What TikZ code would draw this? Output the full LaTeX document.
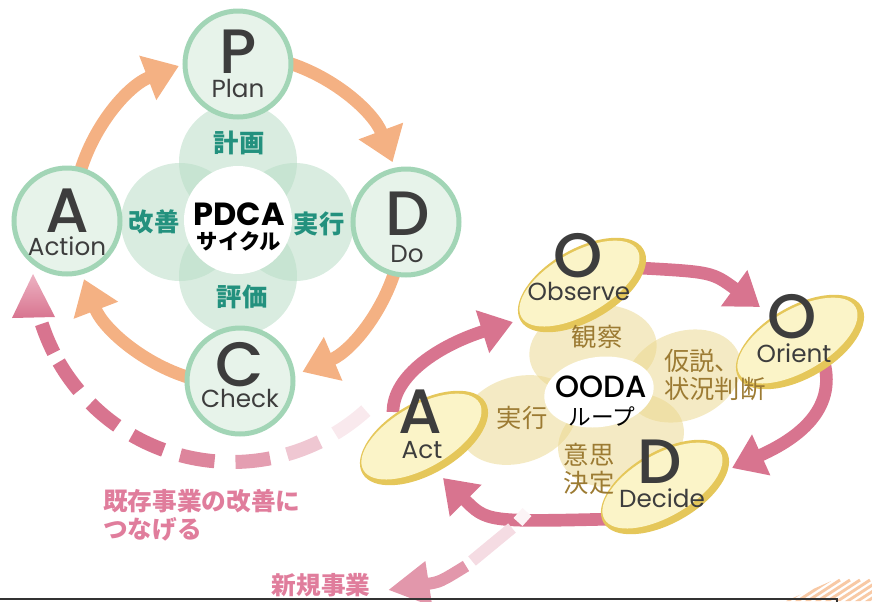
\documentclass[tikz,border=0pt]{standalone}
\usepackage{fontspec}
\setmainfont{Poppins}
\IfFontExistsTF{Poppins Medium}{\newfontfamily\bigf{Poppins Medium}}{\newfontfamily\bigf{Poppins}[FakeBold=1.5]}
\newfontfamily\jp{Noto Sans CJK JP}
\usetikzlibrary{arrows.meta}
\definecolor{gborder}{HTML}{A2D5B6}
\definecolor{gfill}{HTML}{E7F3EA}
\definecolor{petalc}{HTML}{B9DDC6}
\definecolor{tealc}{HTML}{23917E}
\definecolor{orng}{HTML}{F4B183}
\definecolor{pinkc}{HTML}{D8748F}
\definecolor{pinklt}{HTML}{EDB3C3}
\definecolor{ellfill}{HTML}{FBF4C8}
\definecolor{ellgold}{HTML}{E5C75A}
\definecolor{blobc}{HTML}{EAD68A}
\definecolor{brownc}{HTML}{9C7B33}
\definecolor{darkc}{HTML}{3D3D3D}
\definecolor{pinktext}{HTML}{E07D9C}
\definecolor{hatchc}{HTML}{F8C9A5}
\begin{document}
\begin{tikzpicture}[x=0.75pt,y=-0.75pt,
  pcirc/.style={circle, draw=gborder, fill=gfill, line width=3.75pt, minimum size=79.5pt, inner sep=0pt},
  big/.style={font=\bigf\fontsize{47}{47}\selectfont, text=darkc, anchor=base, inner sep=0pt},
  word/.style={font=\fontsize{18.5}{18.5}\selectfont, text=darkc, anchor=base, inner sep=0pt},
  jlab/.style={font=\jp\bfseries\fontsize{19}{21}\selectfont, inner sep=0pt},
  olab/.style={font=\jp\fontsize{19}{21}\selectfont, text=brownc, inner sep=0pt},
  oarr/.style={draw=orng, line width=9.5pt, -{Triangle[length=25pt,width=34pt]}},
  parr/.style={draw=pinkc, line width=9.5pt, -{Triangle[length=24pt,width=32pt]}},
  dsh/.style={line width=10.5pt}
]
\useasboundingbox (0,0) rectangle (872,601);
% ---------------- PDCA ----------------
\coordinate (pc) at (238,220);
\coordinate (dc) at (232,262);
% big dashed arc
\foreach \a/\b/\o in {48/59/16, 64/74/40, 79/89/70, 95/105/88, 110/120/100, 125/135/100, 140/150/100, 153/162/100}
  \draw[dsh, draw=pinkc!\o] (dc) ++(\a:200) arc[start angle=\a, end angle=\b, radius=200];
\shade[top color=pinklt, bottom color=pinkc] (12,318) -- (33,274) -- (55,317) -- cycle;
% petals
\fill[petalc, opacity=.55] (238,162) circle[radius=59];
\fill[petalc, opacity=.55] (238,276) circle[radius=59];
\fill[petalc, opacity=.55] (180,222) circle[radius=59];
\fill[petalc, opacity=.55] (295,222) circle[radius=59];
\fill[white] (pc) circle[radius=54];
% orange arrows
\draw[oarr] (pc) ++(-75:165) arc[start angle=-75, end angle=-20.5, radius=165];
\draw[oarr] (pc) ++(12:165) arc[start angle=12, end angle=67, radius=165];
\draw[oarr] (pc) ++(105:165) arc[start angle=105, end angle=159, radius=165];
\draw[oarr] (pc) ++(192:165) arc[start angle=192, end angle=249, radius=165];
% circles
\node[pcirc] (P) at (238,64) {};
\node[pcirc] (A) at (67,221) {};
\node[pcirc] (D) at (406,222) {};
\node[pcirc] (C) at (240,381) {};
\node[big] (Pl) at (238,73) {P};
\node[word] (Pw) at (238,97) {Plan};
\node[big] (Al) at (67,232) {A};
\node[word] (Aw) at (67,255) {Action};
\node[big] (Dl) at (408,235) {D};
\node[word] (Dw) at (407,262) {Do};
\node[big] (Cl) at (240,386) {C};
\node[word] (Cw) at (240,407) {Check};
\node[font=\bfseries\fontsize{24}{24}\selectfont, anchor=base, inner sep=0pt] (pdca) at (239,225) {PDCA};
\node[font=\jp\bfseries\fontsize{16}{18}\selectfont, inner sep=0pt] (cyc) at (239,241) {サイクル};
\node[jlab, text=tealc] (k1) at (239,143) {計画};
\node[jlab, text=tealc] (k2) at (154,222) {改善};
\node[jlab, text=tealc] (k3) at (319,224) {実行};
\node[jlab, text=tealc] (k4) at (242,297) {評価};
% ---------------- OODA ----------------
\fill[blobc, opacity=.5, rotate around={8:(593,350)}] (593,350) ellipse[x radius=64, y radius=45];
\fill[blobc, opacity=.5, rotate around={22:(683,376)}] (683,376) ellipse[x radius=60, y radius=44];
\fill[blobc, opacity=.5, rotate around={18:(518,420)}] (518,420) ellipse[x radius=60, y radius=43];
\fill[blobc, opacity=.5, rotate around={15:(621,440)}] (621,440) ellipse[x radius=64, y radius=46];
\fill[white, rotate around={8:(599,392)}] (599,392) ellipse[x radius=55, y radius=35];
% pink arrows
\draw[parr] (640,268) .. controls (712,272) .. (760,307);
\draw[parr] (825,366) .. controls (835,415) and (790,442) .. (732,468);
\draw[parr] (615,519) .. controls (487,522) .. (443,478);
\draw[parr] (393,412) .. controls (393,375) and (440,345) .. (513,322);
% ellipses
\foreach \cx/\cy in {582/285, 800/342, 665/487, 424/438} {
  \fill[ellgold, rotate around={30:(\cx,\cy)}] (\cx,\cy) ellipse[x radius=71, y radius=36];
  \fill[ellfill, rotate around={30:(\cx,\cy)}] (\cx-1.5,\cy-2.5) ellipse[x radius=67, y radius=31];
}
\node[big] (O1) at (578,277) {O};
\node[word] (O1w) at (579,300) {Observe};
\node[big] (O2) at (792,338) {O};
\node[word] (O2w) at (794,362) {Orient};
\node[big] (D2) at (660,483) {D};
\node[word] (D2w) at (662,507) {Decide};
\node[big] (A2) at (420,433) {A};
\node[word] (A2w) at (422,458) {Act};
\node[font=\bigf\fontsize{23}{23}\selectfont, anchor=base, inner sep=0pt] (ooda) at (601,397) {OODA};
\node[font=\jp\fontsize{17}{19}\selectfont, inner sep=0pt] (loop) at (602,416) {ループ};
\node[olab] (m1) at (597,337) {観察};
\node[olab, anchor=west, align=left] (m2) at (664,375) {仮説、\\状況判断};
\node[olab] (m3) at (522,418) {実行};
\node[olab, align=center] (m4) at (589,469) {意思\\決定};
% ---------------- bottom ----------------
\draw[pinkc!8, line width=9pt] (518,522) -- (527,512);
\draw[pinkc!25, line width=9pt] (472,561) -- (512,528);
\draw[pinkc!75, line width=9pt, -{Triangle[length=31pt,width=32pt]}] (466,566) .. controls (440,582) .. (388,590);
\node[font=\jp\bfseries\fontsize{18.5}{21}\selectfont, text=pinktext, anchor=west, align=left, inner sep=0pt] (t1) at (103,515) {既存事業の改善に\\つなげる};
\node[font=\jp\bfseries\fontsize{18.5}{21}\selectfont, text=pinktext, inner sep=0pt] (t2) at (321,585) {新規事業};
\begin{scope}
  \clip (786,601) -- (872,563) -- (872,601) -- cycle;
  \foreach \i in {0,...,12} \draw[hatchc, line width=2.2pt] (760+10*\i,606) -- ++(40,-26);
\end{scope}
\draw[line width=1.5pt, black!80] (0,598.5) -- (837,598.5) -- (837,606);
\end{tikzpicture}
\end{document}
